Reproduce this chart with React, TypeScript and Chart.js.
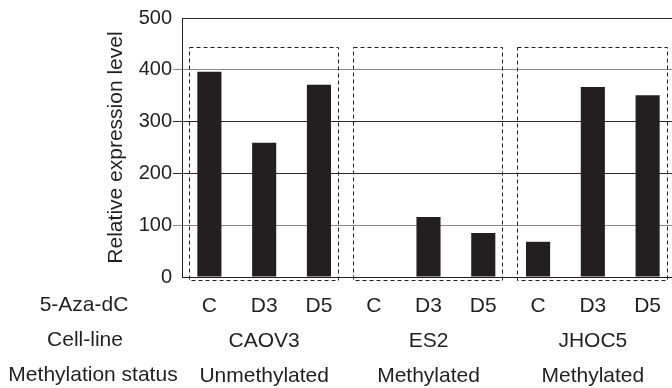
import React, { useEffect, useRef } from "react";
import { Chart, registerables } from "chart.js";

Chart.register(...registerables);

const treatments = ["C", "D3", "D5", "C", "D3", "D5", "C", "D3", "D5"];
const cellLines = ["CAOV3", "ES2", "JHOC5"];
const methylationStatus = ["Unmethylated", "Methylated", "Methylated"];
const expressionValues = [396, 259, 371, 0, 116, 85, 68, 367, 351];
const rowTitles = ["5-Aza-dC", "Cell-line", "Methylation status"];
const groupStarts = [0, 3, 6];
const groupSize = 3;
const boxRange = [-5, 444];
const yTicks = [0, 100, 200, 300, 400, 500];

const INK = "#231f20";
const FONT = "'Liberation Sans', Arial, Helvetica, sans-serif";
const LABEL_PAD = 4;
const LINE_H = 35;

export default function App() {
  const ref = useRef<HTMLCanvasElement | null>(null);

  useEffect(() => {
    const canvas = ref.current;
    if (!canvas) return;

    const labels = treatments.map((t, i) => {
      const g = Math.floor(i / groupSize);
      const mid = i % groupSize === 1;
      return [t, mid ? cellLines[g] : "", mid ? methylationStatus[g] : ""];
    });

    const titleCenters = [84, 85, 93];

    const overlay = {
      id: "overlay",
      afterDatasetsDraw(chart: any) {
        const { ctx, scales } = chart;
        const x = scales.x;
        const y = scales.y;
        const catW = x.getPixelForValue(1) - x.getPixelForValue(0);
        ctx.save();
        ctx.strokeStyle = INK;
        ctx.lineWidth = 1;
        ctx.setLineDash([4, 3]);
        groupStarts.forEach((s) => {
          const l = Math.round(x.getPixelForValue(s) - 0.38 * catW) + 0.5;
          const r = Math.round(x.getPixelForValue(s + groupSize - 1) + 0.35 * catW) + 0.5;
          const t = Math.round(y.getPixelForValue(boxRange[1])) + 0.5;
          const b = Math.round(y.getPixelForValue(boxRange[0])) + 0.5;
          ctx.strokeRect(l, t, r - l, b - t);
        });
        ctx.restore();
      },
      afterDraw(chart: any) {
        const { ctx, scales } = chart;
        const x = scales.x;
        ctx.save();
        ctx.fillStyle = INK;
        ctx.font = `21px ${FONT}`;
        ctx.textAlign = "center";
        ctx.textBaseline = "middle";
        rowTitles.forEach((t, i) => {
          ctx.fillText(t, titleCenters[i], x.top + 28 + i * LINE_H);
        });
        ctx.restore();
      },
    };

    const chart = new Chart(canvas, {
      type: "bar",
      data: {
        labels,
        datasets: [
          {
            data: expressionValues,
            backgroundColor: INK,
            borderWidth: 0,
            categoryPercentage: 1,
            barPercentage: 0.44,
          },
        ],
      },
      options: {
        animation: false,
        responsive: false,
        devicePixelRatio: 1,
        layout: { padding: { top: 18, right: 5, bottom: 0, left: 0 } },
        plugins: {
          legend: { display: false },
          tooltip: { enabled: false },
        },
        scales: {
          x: {
            grid: { display: false },
            border: { display: true, color: INK, width: 1 },
            ticks: {
              color: INK,
              font: { family: FONT, size: 21, lineHeight: `${LINE_H}px` },
              padding: LABEL_PAD,
              maxRotation: 0,
              autoSkip: false,
            },
            afterFit(scale: any) {
              scale.height = 111;
            },
          },
          y: {
            min: 0,
            max: 500,
            afterBuildTicks(scale: any) {
              scale.ticks = yTicks.map((v) => ({ value: v }));
            },
            grid: {
              color: (c: any) => {
                const v = c.tick ? c.tick.value : 0;
                if (v === 100 || v === 400) return "#8a8a8a";
                return "#2a2a2a";
              },
              tickColor: (c: any) => {
                const v = c.tick ? c.tick.value : 0;
                if (v === 0 || v === 500) return "rgba(0,0,0,0)";
                if (v === 100 || v === 400) return "#8a8a8a";
                return "#2a2a2a";
              },
              tickLength: 9,
              lineWidth: 1,
            },
            border: { display: true, color: INK, width: 1 },
            ticks: {
              color: INK,
              font: { family: FONT, size: 20 },
              padding: 1,
            },
            title: {
              display: true,
              text: "Relative expression level",
              color: INK,
              font: { family: FONT, size: 21 },
              padding: { top: 104, bottom: 0 },
            },
            afterFit(scale: any) {
              scale.width = 182;
            },
          },
        },
      },
      plugins: [overlay],
    });

    return () => chart.destroy();
  }, []);

  return (
    <div
      style={{
        position: "fixed",
        left: 0,
        top: 0,
        width: 672,
        height: 388,
        overflow: "hidden",
        background: "#fff",
      }}
    >
      <canvas ref={ref} width={680} height={388} style={{ width: 680, height: 388, display: "block" }} />
    </div>
  );
}
